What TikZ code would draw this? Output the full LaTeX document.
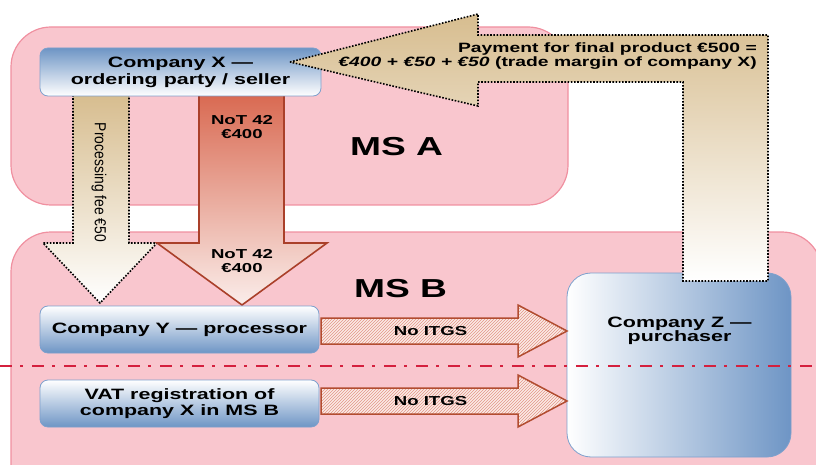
\documentclass[tikz,border=0pt]{standalone}
\usepackage{fontspec}
\setmainfont{Liberation Sans}[FakeStretch=1.43]
\newfontfamily\plainfont{Liberation Sans}
\usetikzlibrary{patterns}

\definecolor{mspink}{RGB}{249,198,206}
\definecolor{msedge}{RGB}{240,144,160}
\definecolor{boxblue}{RGB}{110,149,197}
\definecolor{boxedge}{RGB}{125,160,205}
\definecolor{tanfill}{RGB}{215,189,143}
\definecolor{notred}{RGB}{217,106,82}
\definecolor{notedge}{RGB}{170,64,42}
\definecolor{itgsedge}{RGB}{178,76,48}
\definecolor{hatch}{RGB}{226,150,135}
\definecolor{hatchbg}{RGB}{252,234,230}
\definecolor{borderred}{RGB}{212,32,62}

\tikzset{
  msbox/.style={fill=mspink, draw=msedge, line width=1.2pt, rounded corners=40pt},
  cobox/.style={draw=boxedge, line width=0.8pt, rounded corners=8pt,
    font=\bfseries\fontsize{15}{17}\selectfont, align=center},
  dotline/.style={draw=black, line width=1.6pt, dash pattern=on 1.6pt off 1.6pt},
  itgs/.style={draw=itgsedge, line width=1.5pt, pattern=north east lines,
    pattern color=hatch, preaction={fill=hatchbg}},
  lbl/.style={font=\bfseries\fontsize{15}{17}\selectfont, align=center, inner sep=0pt},
  small/.style={lbl, font=\bfseries\fontsize{13}{14}\selectfont},
  big/.style={lbl, font=\bfseries\fontsize{26}{28}\selectfont},
}

\begin{document}
\begin{tikzpicture}[x=1pt, y=1pt]
  \useasboundingbox (0,0) rectangle (816,-465);

  % member states
  \draw[msbox] (11,-27) rectangle (568,-205);
  \draw[msbox] (11,-232) rectangle (822,-505);
  \node[big] (msa) at (396.5,-146.5) {MS A};
  \node[big] (msb) at (400.5,-288.5) {MS B};

  % purchaser
  \node[cobox, rounded corners=24pt, left color=white, right color=boxblue,
    minimum width=224pt, minimum height=184pt] (coz) at (679,-365) {};
  \node[lbl, font=\bfseries\fontsize{15}{14.5}\selectfont] (coztext) at (679.5,-331)
    {Company Z ---\\purchaser};

  % flows down to the processor
  \draw[dotline, top color=tanfill, bottom color=white]
    (73,-95) -- (73,-243) -- (43,-243) -- (100,-303) -- (157,-243)
    -- (129,-243) -- (129,-95) -- cycle;
  \draw[draw=notedge, line width=1.6pt, top color=notred,
    middle color=notred!25!white, bottom color=notred!12!white]
    (199,-95) -- (199,-243) -- (157,-243) -- (242,-305) -- (327,-243)
    -- (284,-243) -- (284,-95) -- cycle;
  \node[rotate=-90, inner sep=0pt, font=\plainfont\fontsize{13.9}{15}\selectfont] (fee)
    at (99,-182.5) {\scalebox{1}[1.15]{Processing fee €50}};
  \node[small] (not1) at (242,-127) {NoT 42\\€400};
  \node[small] (not2) at (242,-261) {NoT 42\\€400};

  % companies
  \node[cobox, top color=boxblue, bottom color=white,
    minimum width=281pt, minimum height=48pt] (cox) at (180.5,-72)
    {Company X ---\\ordering party / seller};
  \node[cobox, top color=white, bottom color=boxblue,
    minimum width=279pt, minimum height=47pt] (coy) at (179.5,-329.5)
    {Company Y --- processor};
  \node[cobox, top color=white, bottom color=boxblue, font=\bfseries\fontsize{15}{16.5}\selectfont,
    minimum width=279pt, minimum height=47pt] (vat) at (179.5,-403.5)
    {VAT registration of\\company X in MS B};

  % no ITGS
  \draw[itgs] (321,-318) -- (518,-318) -- (518,-305) -- (567,-331)
    -- (518,-357) -- (518,-344) -- (321,-344) -- cycle;
  \draw[itgs] (321,-388) -- (518,-388) -- (518,-375) -- (567,-401)
    -- (518,-427) -- (518,-414) -- (321,-414) -- cycle;
  \node[small] (itgs1) at (430.5,-331.5) {No ITGS};
  \node[small] (itgs2) at (430.5,-401) {No ITGS};

  % payment
  \draw[dotline, top color=tanfill, middle color=tanfill!55!white, bottom color=white]
    (290,-62) -- (478,-14) -- (478,-35) -- (768,-35) -- (768,-281)
    -- (683,-281) -- (683,-82) -- (478,-82) -- (478,-106) -- cycle;
  \node[small, font=\bfseries\fontsize{13.5}{14.6}\selectfont, align=right, anchor=east]
    (pay) at (757,-56) {Payment for final product €500 =\\
    \textit{€400 + €50 + €50} (trade margin of company X)};

  % border between the states
  \draw[borderred, line width=1.3pt, dash pattern=on 12pt off 8pt on 3pt off 9pt]
    (0,-366) -- (816,-366);
\end{tikzpicture}
\end{document}
